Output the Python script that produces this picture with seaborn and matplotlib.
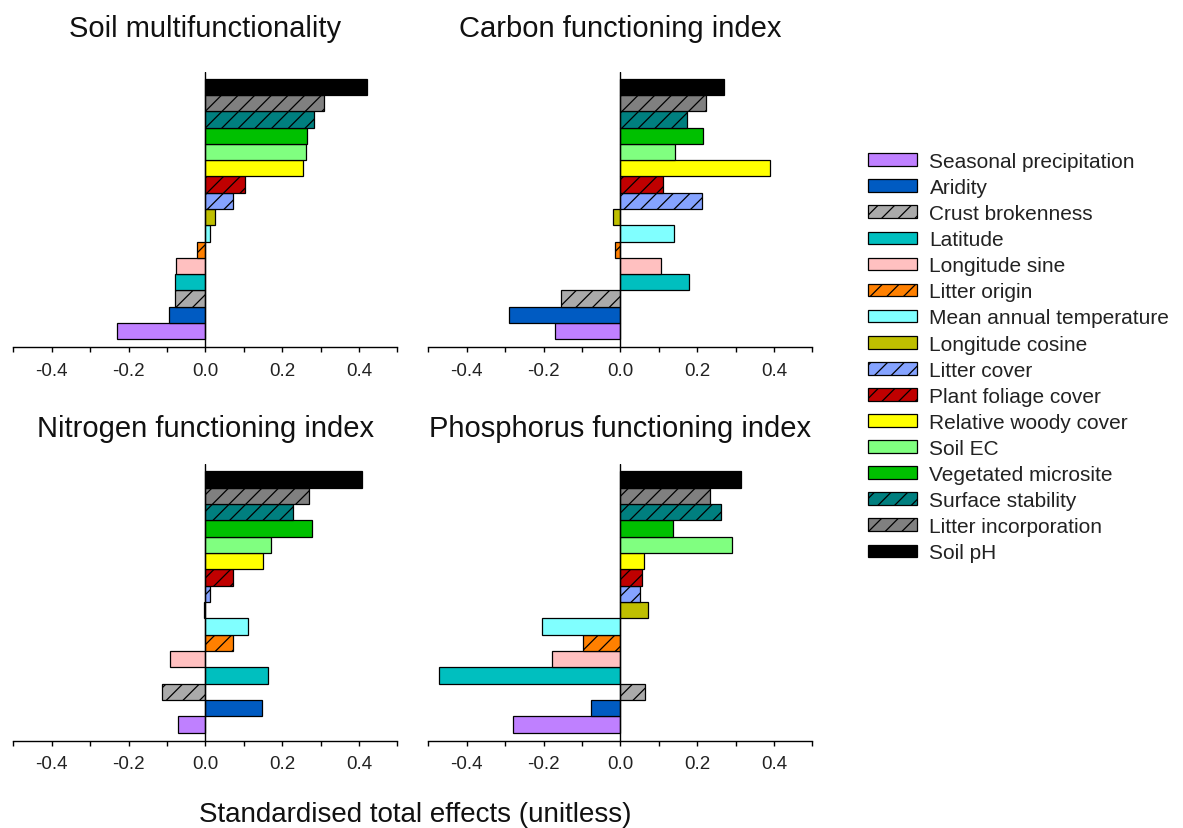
import numpy as np
import pandas as pd
import matplotlib
matplotlib.use("Agg")
import matplotlib.pyplot as plt
from matplotlib.patches import Patch
import seaborn as sns

# ---------------- data ----------------
predictors = [
    "Seasonal precipitation", "Aridity", "Crust brokenness", "Latitude",
    "Longitude sine", "Litter origin", "Mean annual temperature",
    "Longitude cosine", "Litter cover", "Plant foliage cover",
    "Relative woody cover", "Soil EC", "Vegetated microsite",
    "Surface stability", "Litter incorporation", "Soil pH",
]
colors = [
    "#BF80FF", "#005BC2", "#AAAAAA", "#00BFBF",
    "#FFC0C0", "#FF8000", "#80FFFF",
    "#BFBF00", "#85A3FF", "#C00000",
    "#FFFF00", "#80FF80", "#00C000",
    "#007F7F", "#808080", "#000000",
]
hatched = [
    "Crust brokenness", "Litter origin", "Litter cover",
    "Plant foliage cover", "Surface stability", "Litter incorporation",
]

panel_titles = [
    "Soil multifunctionality", "Carbon functioning index",
    "Nitrogen functioning index", "Phosphorus functioning index",
]

# values in the order of `predictors`
soil_multi = [-0.230, -0.094, -0.079, -0.079, -0.076, -0.022, 0.011, 0.026,
              0.072, 0.103, 0.254, 0.261, 0.265, 0.283, 0.310, 0.422]
carbon = [-0.170, -0.289, -0.155, 0.178, 0.106, -0.015, 0.141, -0.019,
          0.213, 0.110, 0.390, 0.143, 0.216, 0.174, 0.223, 0.270]
nitrogen = [-0.072, 0.148, -0.113, 0.163, -0.091, 0.072, 0.110, -0.004,
            0.011, 0.072, 0.150, 0.170, 0.277, 0.228, 0.270, 0.409]
phosphorus = [-0.280, -0.077, 0.064, -0.472, -0.177, -0.098, -0.204, 0.072,
              0.052, 0.057, 0.063, 0.291, 0.137, 0.261, 0.234, 0.315]
panel_values = [soil_multi, carbon, nitrogen, phosphorus]

tick_values = [-0.4, -0.2, 0.0, 0.2, 0.4]
tick_labels = ["-0.4", "-0.2", "0.0", "0.2", "0.4"]
minor_ticks = [-0.5, -0.3, -0.1, 0.1, 0.3, 0.5]
xlabel = "Standardised total effects (unitless)"

# ---------------- style ----------------
sns.set_style("white")
plt.rcParams["font.family"] = ["Liberation Sans", "DejaVu Sans"]
plt.rcParams["axes.unicode_minus"] = False
plt.rcParams["hatch.linewidth"] = 0.9
plt.rcParams["hatch.color"] = "black"

palette = dict(zip(predictors, colors))
order = predictors[::-1]  # Soil pH on top

fig = plt.figure(figsize=(11.83, 8.29), dpi=100)

W, H = 1183, 829
col_left = [13.3, 428.3]
col_w = 384.0
rows = [(72.7, 348.0), (465.0, 741.7)]
title_pads = [26.0, 20.0]

for i, (title, vals) in enumerate(zip(panel_titles, panel_values)):
    r, c = divmod(i, 2)
    top, bot = rows[r]
    ax = fig.add_axes([col_left[c] / W, (H - bot) / H, col_w / W, (bot - top) / H])
    df = pd.DataFrame({"predictor": predictors, "value": vals})
    sns.barplot(data=df, x="value", y="predictor", hue="predictor",
                palette=palette, order=order, hue_order=predictors,
                width=1.0, dodge=False, legend=False, ax=ax,
                edgecolor="black", linewidth=0.9, saturation=1)
    for p in ax.patches:
        idx = int(round(p.get_y() + p.get_height() / 2))
        name = order[idx]
        p.set_edgecolor("black")
        p.set_linewidth(0.9)
        if name in hatched:
            p.set_hatch("//")
    ax.set_xlim(-0.5, 0.5)
    ax.set_ylim(15.98, -0.94)
    ax.axvline(0, color="black", lw=1.0, zorder=5)
    for s in ["left", "top", "right"]:
        ax.spines[s].set_visible(False)
    ax.spines["bottom"].set_color("black")
    ax.spines["bottom"].set_linewidth(1.0)
    ax.set_xticks(tick_values, tick_labels)
    ax.set_xticks(minor_ticks, minor=True)
    ax.tick_params(axis="x", which="both", direction="out", length=3.5,
                   width=1.0, color="black", bottom=True)
    ax.tick_params(axis="x", which="major", labelsize=13.5, pad=7,
                   labelcolor="#222222")
    ax.set_yticks([])
    ax.set_xlabel("")
    ax.set_ylabel("")
    ax.set_title(title, fontsize=21, pad=title_pads[r], color="#111111")

fig.text(415 / W, (H - 821.7) / H, xlabel, fontsize=20, ha="center",
         va="baseline", color="#111111")

handles = [Patch(facecolor=col, edgecolor="black", linewidth=0.9,
                 hatch="//" if name in hatched else None)
           for name, col in zip(predictors, colors)]
fig.legend(handles, predictors, loc="upper left",
           bbox_to_anchor=(868 / W, (H - 153.0) / H), frameon=False,
           fontsize=15, handlelength=2.35, handleheight=0.56,
           handletextpad=0.6, labelspacing=0.34, borderpad=0,
           borderaxespad=0, labelcolor="#222222")

fig.savefig("out.png", dpi=100)
